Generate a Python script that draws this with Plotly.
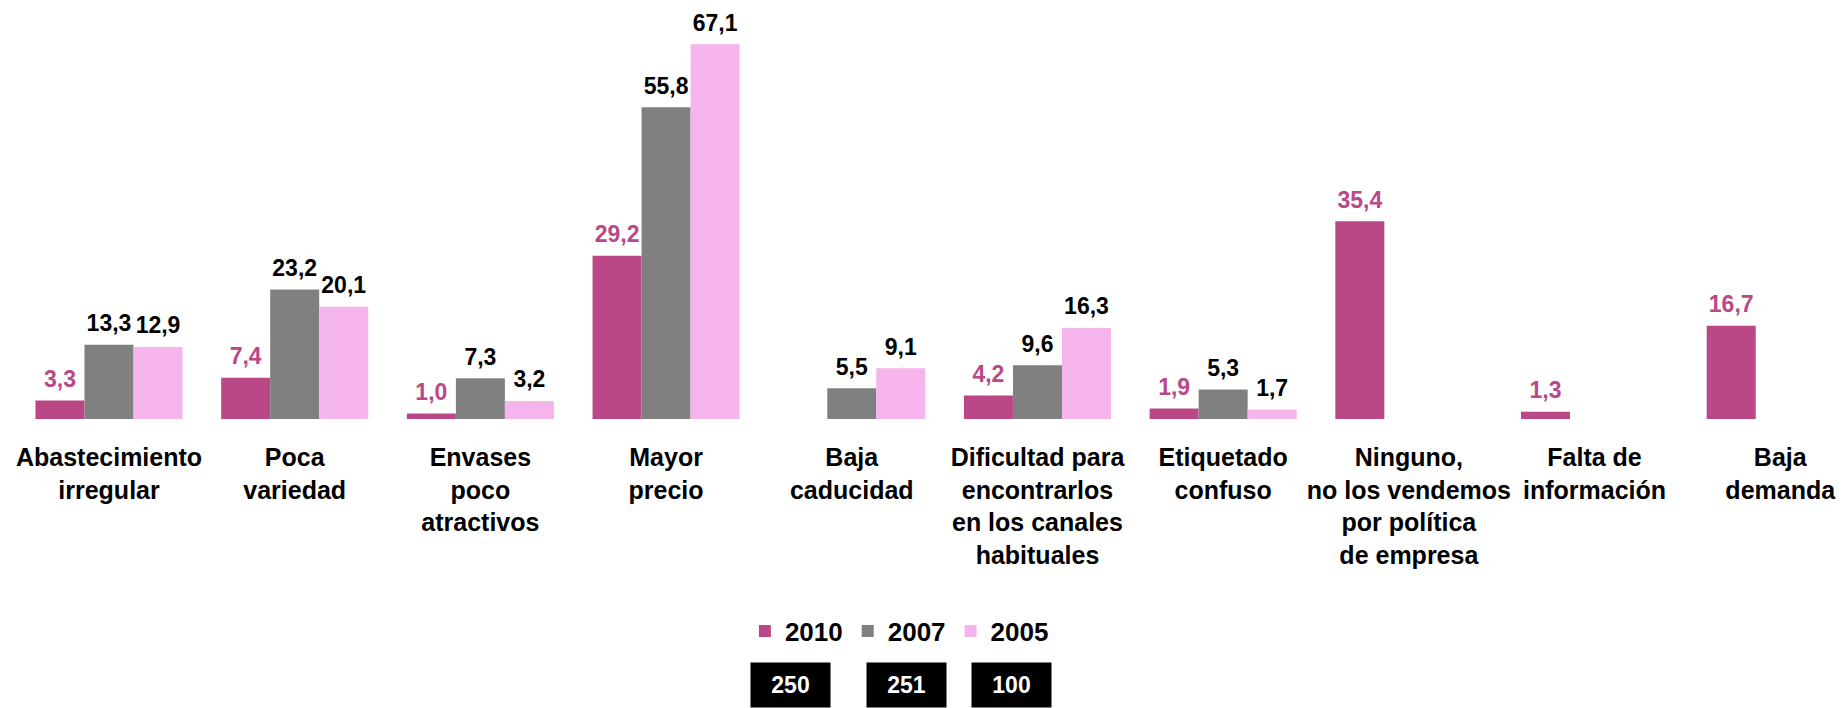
import plotly.graph_objects as go

# Barreras para la venta de productos, % de respuestas por año
categories = [
    "Abastecimiento<br>irregular",
    "Poca<br>variedad",
    "Envases<br>poco<br>atractivos",
    "Mayor<br>precio",
    "Baja<br>caducidad",
    "Dificultad para<br>encontrarlos<br>en los canales<br>habituales",
    "Etiquetado<br>confuso",
    "Ninguno,<br>no los vendemos<br>por política<br>de empresa",
    "Falta de<br>información",
    "Baja<br>demanda",
]
values_2010 = [3.3, 7.4, 1.0, 29.2, None, 4.2, 1.9, 35.4, 1.3, 16.7]
values_2007 = [13.3, 23.2, 7.3, 55.8, 5.5, 9.6, 5.3, None, None, None]
values_2005 = [12.9, 20.1, 3.2, 67.1, 9.1, 16.3, 1.7, None, None, None]

years = ["2010", "2007", "2005"]
sample_sizes = [250, 251, 100]

colors = {"2010": "#BA4786", "2007": "#808080", "2005": "#F5B4EB"}
label_colors = {"2010": "#BA4786", "2007": "#000000", "2005": "#000000"}
FONT = "Liberation Sans, Arial, sans-serif"

fig = go.Figure()
series = list(zip(years, [values_2010, values_2007, values_2005]))

for year, vals in series:
    fig.add_trace(go.Bar(
        name=year,
        x=categories,
        y=vals,
        marker=dict(color=colors[year], line=dict(width=0)),
        offsetgroup=year,
        cliponaxis=False,
    ))

# Etiquetas de valor: puntos invisibles agrupados como las barras
for year, vals in series:
    fig.add_trace(go.Scatter(
        x=categories,
        y=vals,
        mode="markers+text",
        marker=dict(size=11, color="rgba(0,0,0,0)"),
        text=[None if v is None else f"<b>{v:.1f}</b>".replace(".", ",") for v in vals],
        textposition="top center",
        textfont=dict(family=FONT, size=23, color=label_colors[year]),
        offsetgroup=year,
        showlegend=False,
        hoverinfo="skip",
        cliponaxis=False,
    ))

# Tamaño de muestra de cada año, bajo la leyenda
for i, n in enumerate(sample_sizes):
    fig.add_annotation(
        xref="paper", yref="paper",
        x=[0.429, 0.492, 0.549][i], y=-0.635,
        xanchor="center", yanchor="middle",
        text=f"<b>{n}</b>",
        showarrow=False,
        bgcolor="#000000",
        width=77, height=42,
        font=dict(family=FONT, size=23, color="#FFFFFF"),
    )

fig.update_layout(
    width=1843, height=708,
    margin=dict(l=0, r=0, t=0, b=289),
    plot_bgcolor="#FFFFFF",
    paper_bgcolor="#FFFFFF",
    separators=", ",
    barmode="group",
    bargap=0.208,
    bargroupgap=0,
    scattermode="group",
    scattergap=0.208,
    showlegend=True,
    legend=dict(
        orientation="h",
        x=0.488, xanchor="center",
        y=-0.506, yanchor="middle",
        font=dict(family=FONT, size=26, color="#000000", weight="bold"),
        itemsizing="constant",
        traceorder="normal",
    ),
    xaxis=dict(
        type="category",
        range=[-0.587, 9.338],
        showline=False, showgrid=False, zeroline=False,
        ticks="outside", ticklen=16, tickcolor="rgba(0,0,0,0)",
        tickfont=dict(family=FONT, size=25, color="#000000", weight="bold"),
        tickangle=0,
    ),
    yaxis=dict(
        range=[0, 75],
        visible=False,
        showgrid=False, zeroline=False,
    ),
)

fig.write_html("out.html")
